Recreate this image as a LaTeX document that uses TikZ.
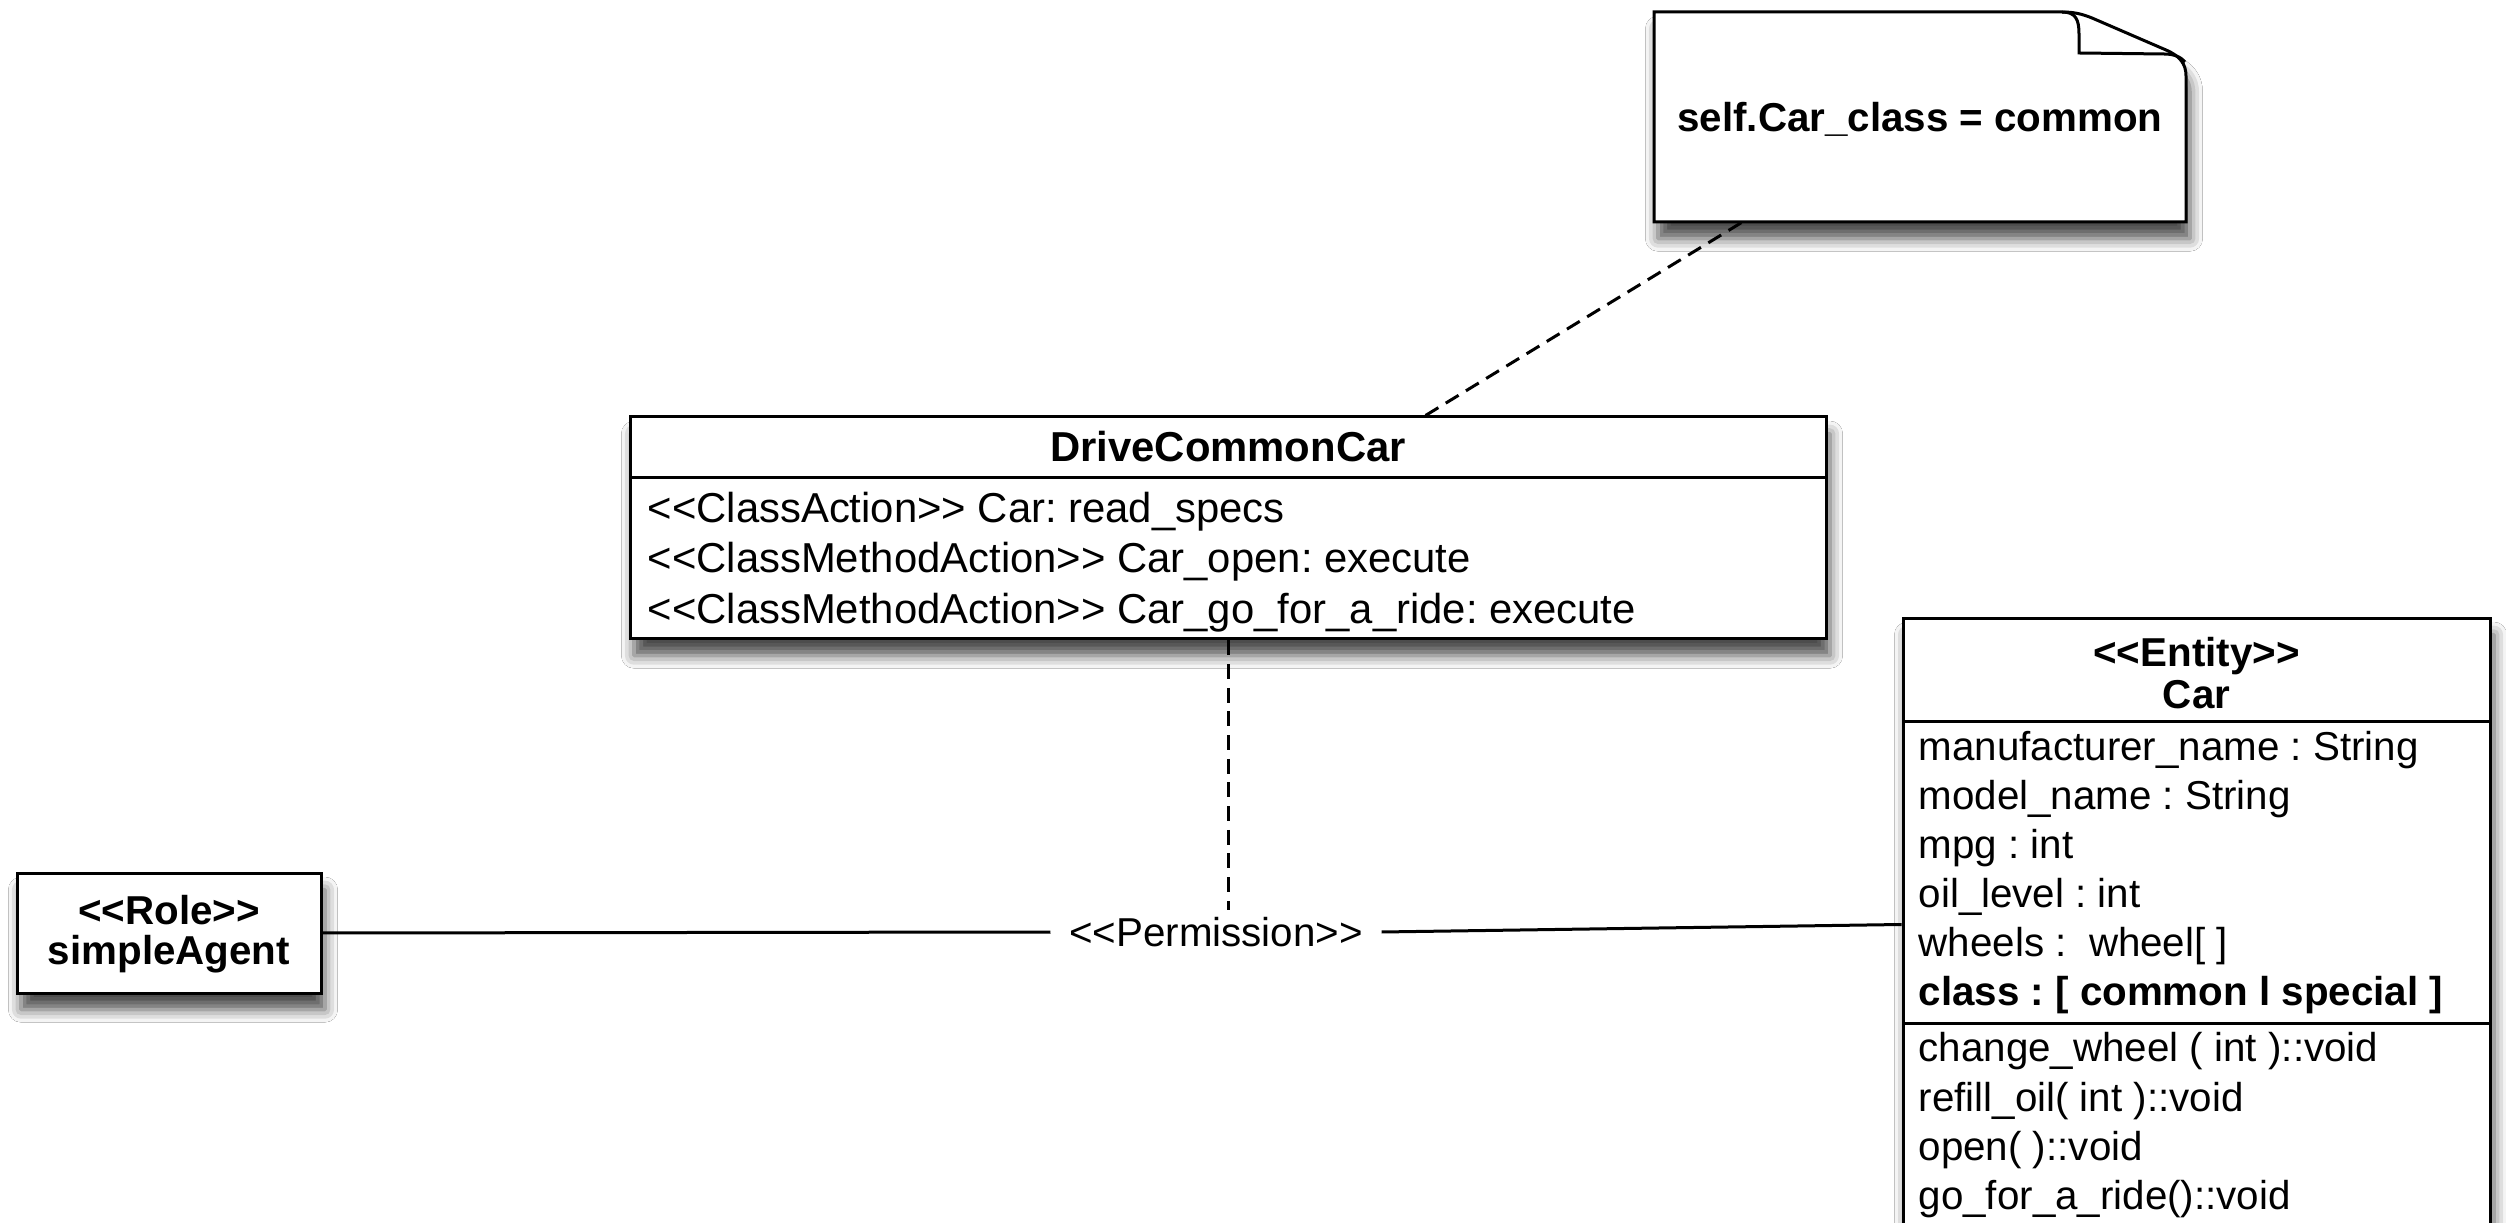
\documentclass[tikz,border=0pt]{standalone}
\usepackage{fontspec}
\setmainfont{Liberation Sans}[Ligatures=TeXOff]
\usetikzlibrary{shadows.blur,calc}
\frenchspacing
\begin{document}
\begin{tikzpicture}[x=0.3pt,y=-0.3pt,
  txt/.style={font=\fontsize{12.1pt}{14.5pt}\selectfont, inner sep=0pt, text height=8.7pt, text depth=0pt},
  btxt/.style={font=\fontsize{12.1pt}{14.5pt}\selectfont\bfseries, inner sep=0pt, text height=8.7pt, text depth=0pt},
  row/.style={txt, anchor=west},
  brow/.style={btxt, anchor=west},
  dtxt/.style={font=\fontsize{12.55pt}{15pt}\selectfont, inner sep=0pt, text height=9pt, text depth=0pt, anchor=west},
  dbtxt/.style={font=\fontsize{12.55pt}{15pt}\selectfont\bfseries, inner sep=0pt, text height=9pt, text depth=0pt},
  shad/.style={blur shadow={shadow xshift=1.2pt, shadow yshift=-5pt, shadow blur radius=3.8pt, shadow opacity=70}},
  umlbox/.style={draw, line width=0.9pt, fill=white, inner sep=0pt, shad},
  sepline/.style={line width=0.9pt},
  conn/.style={line width=0.9pt},
  dep/.style={line width=0.9pt, dash pattern=on 4.5pt off 2.6pt}]
\useasboundingbox (0,0) rectangle (2506,1223);
\fill[white] (0,0) rectangle (2506,1223);

% note
\filldraw[line width=0.9pt, fill=white, shad] (1654,12) -- (2062,12)
  .. controls (2074,12) and (2082,14) .. (2092,18) -- (2166,50)
  .. controls (2180,56) and (2186,64) .. (2186,76) -- (2186,222) -- (1654,222) -- cycle;
\draw[line width=0.9pt] (2062,12) .. controls (2076,12) and (2079,20) .. (2079,34)
  -- (2079,53) -- (2164,54) .. controls (2174,54) and (2181,57) .. (2185,62);
\node[btxt, minimum width=159.6pt, minimum height=63pt] (note) at (1920,117) {self.Car\_class = common};

% DriveCommonCar
\node[umlbox, minimum width=358.8pt, minimum height=66.6pt] (dcc) at (1228,528) {};
\draw[sepline] (630,478) -- (1826,478);
\node[dbtxt] (dcct) at (1228,447) {DriveCommonCar};
\node[dtxt] (d1) at (647,508) {<<ClassAction>> Car: read\_specs};
\node[dtxt] (d2) at (647,558) {<<ClassMethodAction>> Car\_open: execute};
\node[dtxt] (d3) at (647,609) {<<ClassMethodAction>> Car\_go\_for\_a\_ride: execute};

% simpleAgent
\node[umlbox, minimum width=91.2pt, minimum height=36pt] (agent) at (169,933) {};
\node[btxt] (a1) at (169,910) {<<Role>>};
\node[btxt] (a2) at (169,950) {simpleAgent};

% Car
\node[umlbox, minimum width=176.1pt, minimum height=189.6pt] (car) at (2196.5,934) {};
\draw[sepline] (1903,722) -- (2490,722);
\draw[sepline] (1903,1023) -- (2490,1023);
\node[btxt] (c0) at (2196.5,652) {<<Entity>>};
\node[btxt] (c00) at (2196.5,694) {Car};
\node[row] (c1) at (1918,746) {manufacturer\_name : String};
\node[row] (c2) at (1918,795) {model\_name : String};
\node[row] (c3) at (1918,844) {mpg : int};
\node[row] (c4) at (1918,893) {oil\_level : int};
\node[row] (c5) at (1918,942) {wheels : \ wheel[ ]};
\node[brow] (c6) at (1918,991) {class : [ common l special ]};
\node[row] (m1) at (1918,1047) {change\_wheel ( int )::void};
\node[row] (m2) at (1918,1097) {refill\_oil( int )::void};
\node[row] (m3) at (1918,1146) {open( )::void};
\node[row] (m4) at (1918,1195) {go\_for\_a\_ride()::void};

% permission
\node[txt, inner xsep=5.4pt, inner ysep=2pt] (perm) at (1216,932) {<<Permission>>};
\draw[conn] (agent.east) -- (perm.west);
\draw[conn] (perm.east) -- ([yshift=-92.4pt]car.north west);
\draw[dep] (dcc.south) -- (dcc.south |- perm.north);
\draw[dep] ([xshift=26.4pt]note.south west) -- ([xshift=239.1pt]dcc.north west);
\end{tikzpicture}
\end{document}
